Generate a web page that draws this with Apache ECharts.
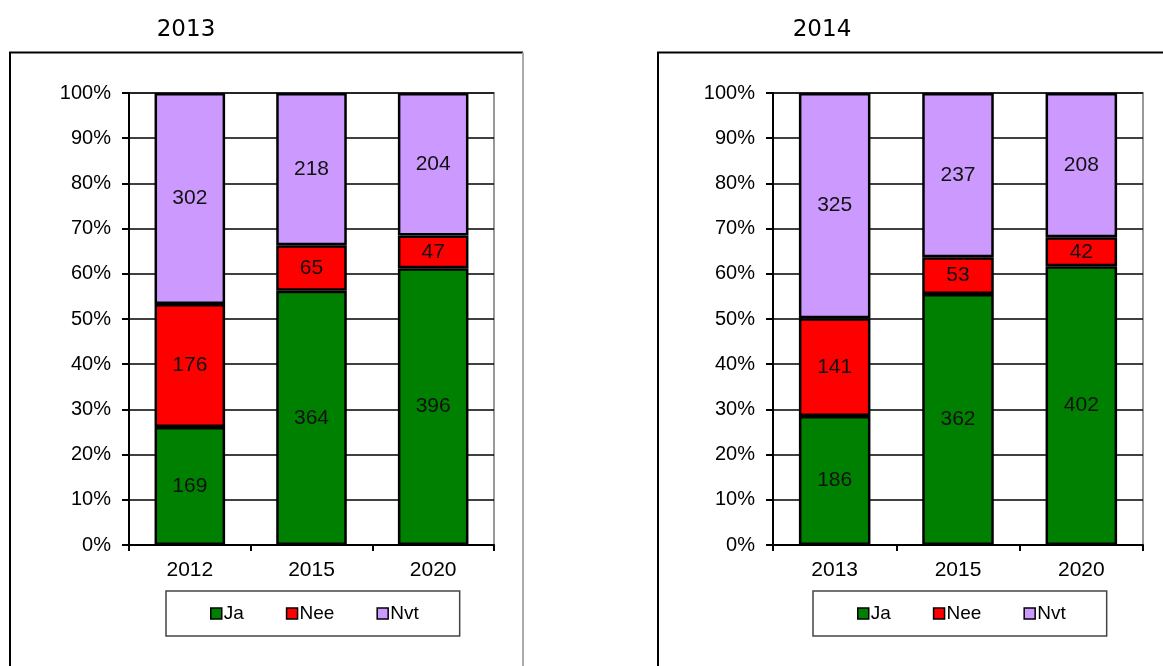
<!DOCTYPE html>
<html>
<head>
<meta charset="utf-8">
<script src="https://cdn.jsdelivr.net/npm/echarts@6/dist/echarts.min.js"></script>
<style>
  html, body { margin: 0; padding: 0; background: #fff; }
  #chart { width: 1163px; height: 666px; }
</style>
</head>
<body>
<div id="chart"></div>
<script>
// Survey answers per target year, two survey rounds
const seriesNames = ['Ja', 'Nee', 'Nvt'];
const seriesColors = ['#008000', '#FF0000', '#CC99FF'];

const title2013 = '2013';
const categories2013 = ['2012', '2015', '2020'];
const ja2013 = [169, 364, 396];
const nee2013 = [176, 65, 47];
const nvt2013 = [302, 218, 204];

const title2014 = '2014';
const categories2014 = ['2013', '2015', '2020'];
const ja2014 = [186, 362, 402];
const nee2014 = [141, 53, 42];
const nvt2014 = [325, 237, 208];

const yTicks = [0, 10, 20, 30, 40, 50, 60, 70, 80, 90, 100];

const FONT = 'Arial, "Liberation Sans", sans-serif';
const TITLE_FONT = 'Verdana, "DejaVu Sans", sans-serif';

// Convert counts into shares of the category total, keeping the raw count for the label
function shares(groups) {
  const totals = groups[0].map((_, i) => groups.reduce((s, g) => s + g[i], 0));
  return groups.map(g => g.map((v, i) => ({ value: v / totals[i] * 100, count: v })));
}

function panelSeries(groups, gridIndex) {
  const data = shares(groups);
  return seriesNames.map((name, k) => ({
    name: name,
    type: 'bar',
    stack: 'total' + gridIndex,
    xAxisIndex: gridIndex,
    yAxisIndex: gridIndex,
    barWidth: '58%',
    data: data[k],
    itemStyle: { color: seriesColors[k], borderColor: '#000', borderWidth: 2.5 },
    label: {
      show: true,
      position: 'inside',
      color: '#111',
      fontFamily: FONT,
      fontSize: 21,
      formatter: p => String(p.data.count)
    }
  }));
}

function xAxis(cats, gridIndex) {
  return {
    type: 'category',
    gridIndex: gridIndex,
    data: cats,
    axisLine: { lineStyle: { color: '#000', width: 2 } },
    axisTick: { show: true, length: 6, lineStyle: { color: '#000', width: 2 } },
    axisLabel: { color: '#000', fontFamily: FONT, fontSize: 21, margin: 15 }
  };
}

function yAxis(gridIndex) {
  return {
    type: 'value',
    gridIndex: gridIndex,
    min: yTicks[0],
    max: yTicks[yTicks.length - 1],
    interval: yTicks[1] - yTicks[0],
    axisLine: { show: true, lineStyle: { color: '#000', width: 2 } },
    axisTick: { show: true, length: 7, lineStyle: { color: '#000', width: 2 } },
    axisLabel: { color: '#000', fontFamily: FONT, fontSize: 20, margin: 18, formatter: '{value}%' },
    splitLine: { show: true, lineStyle: { color: '#000', width: 1.5 } }
  };
}

function legend(left) {
  return {
    data: seriesNames,
    left: left,
    top: 591,
    orient: 'horizontal',
    icon: 'rect',
    itemWidth: 11,
    itemHeight: 11,
    itemGap: 42,
    itemStyle: { borderColor: '#000', borderWidth: 1.5 },
    selectedMode: false,
    padding: [13, 41, 13, 44],
    borderColor: '#444',
    borderWidth: 1.5,
    textStyle: { color: '#000', fontFamily: FONT, fontSize: 19, padding: [0, 0, 0, -3] }
  };
}

const chart = echarts.init(document.getElementById('chart'), null, { renderer: 'canvas' });

chart.setOption({
  animation: false,
  backgroundColor: '#fff',
  title: [
    { text: title2013, left: 181, top: 14, textAlign: 'center',
      textStyle: { fontFamily: TITLE_FONT, fontSize: 23, fontWeight: 'normal', color: '#000' } },
    { text: title2014, left: 817, top: 14, textAlign: 'center',
      textStyle: { fontFamily: TITLE_FONT, fontSize: 23, fontWeight: 'normal', color: '#000' } }
  ],
  graphic: [
    // frame around the first panel: black top/left, grey right
    { type: 'polyline', shape: { points: [[10, 666], [10, 52.5], [523, 52.5]] },
      style: { stroke: '#000', lineWidth: 2, fill: null }, z: -1 },
    { type: 'line', shape: { x1: 523, y1: 52.5, x2: 523, y2: 666 },
      style: { stroke: '#aaa', lineWidth: 2 }, z: -1 },
    // frame around the second panel
    { type: 'polyline', shape: { points: [[658, 666], [658, 52.5], [1163, 52.5]] },
      style: { stroke: '#000', lineWidth: 2, fill: null }, z: -1 }
  ],
  legend: [legend(166), legend(813)],
  grid: [
    { left: 129, top: 93, width: 365, height: 452, show: true, borderColor: '#999', borderWidth: 2 },
    { left: 773, top: 93, width: 370, height: 452, show: true, borderColor: '#999', borderWidth: 2 }
  ],
  xAxis: [xAxis(categories2013, 0), xAxis(categories2014, 1)],
  yAxis: [yAxis(0), yAxis(1)],
  series: [
    ...panelSeries([ja2013, nee2013, nvt2013], 0),
    ...panelSeries([ja2014, nee2014, nvt2014], 1)
  ]
});
</script>
</body>
</html>
